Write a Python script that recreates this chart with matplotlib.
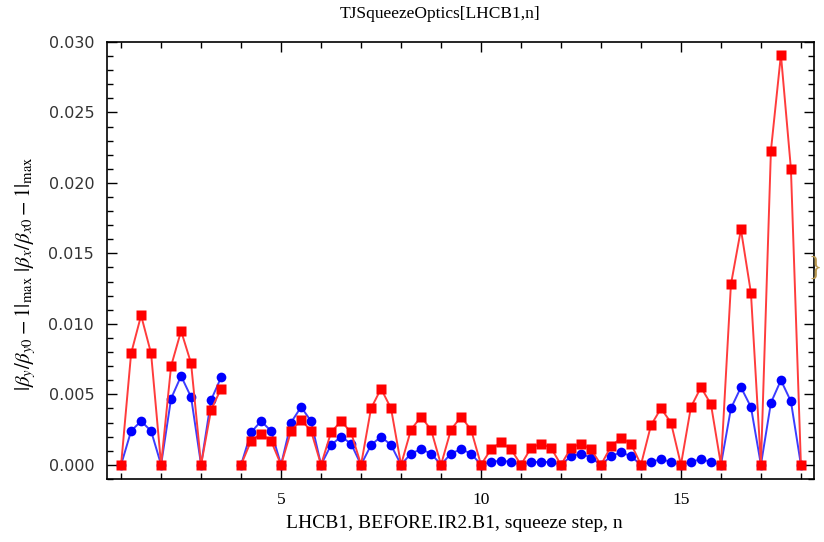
import numpy as np
import matplotlib
matplotlib.use("Agg")
import matplotlib.pyplot as plt
from matplotlib.ticker import MultipleLocator

plt.rcParams['mathtext.fontset'] = 'stix'

# squeeze step positions, 4 samples per step (n, n+1/4, n+1/2, n+3/4)
steps = np.arange(1, 18.01, 0.25)

# |beta_x/beta_x0 - 1|_max  (red squares), nan = missing point
beta_x = [0.0, 0.0079, 0.0106, 0.0079,
          0.0, 0.0070, 0.0095, 0.0072,
          0.0, 0.0039, 0.0054, np.nan,
          0.0, 0.0017, 0.0022, 0.0017,
          0.0, 0.0024, 0.0032, 0.0024,
          0.0, 0.0023, 0.0031, 0.0023,
          0.0, 0.0040, 0.0054, 0.0040,
          0.0, 0.0025, 0.0034, 0.0025,
          0.0, 0.0025, 0.0034, 0.0025,
          0.0, 0.0011, 0.0016, 0.0011,
          0.0, 0.0012, 0.0015, 0.0012,
          0.0, 0.0012, 0.0015, 0.0011,
          0.0, 0.0013, 0.0019, 0.0015,
          0.0, 0.0028, 0.0040, 0.0030,
          0.0, 0.0041, 0.0055, 0.0043,
          0.0, 0.0128, 0.0167, 0.0122,
          0.0, 0.0223, 0.0291, 0.0210,
          0.0]

# |beta_y/beta_y0 - 1|_max  (blue circles)
beta_y = [0.0, 0.0024, 0.0031, 0.0024,
          0.0, 0.0047, 0.0063, 0.0048,
          0.0, 0.0046, 0.0062, np.nan,
          0.0, 0.0023, 0.0031, 0.0024,
          0.0, 0.0030, 0.0041, 0.0031,
          0.0, 0.0014, 0.0020, 0.0015,
          0.0, 0.0014, 0.0020, 0.0014,
          0.0, 0.0008, 0.0011, 0.0008,
          0.0, 0.0008, 0.0011, 0.0008,
          0.0, 0.0002, 0.0003, 0.0002,
          0.0, 0.0002, 0.0002, 0.0002,
          0.0, 0.0006, 0.0008, 0.0005,
          0.0, 0.0006, 0.0009, 0.0006,
          0.0, 0.0002, 0.0004, 0.0002,
          0.0, 0.0002, 0.0004, 0.0002,
          0.0, 0.0040, 0.0055, 0.0041,
          0.0, 0.0044, 0.0060, 0.0045,
          0.0]

fig = plt.figure(figsize=(8.24, 5.42), dpi=100)
ax = fig.add_axes([0.1295, 0.1162, 0.8585, 0.8063])

ax.plot(steps, beta_y, '-', color='#3c3cff', lw=1.4, zorder=2)
ax.plot(steps, beta_y, 'o', color='#0000ff', ms=7, mec='none', zorder=3)
ax.plot(steps, beta_x, '-', color='#ff3c3c', lw=1.4, zorder=4)
ax.plot(steps, beta_x, 's', color='#ff0000', ms=7, mec='none', zorder=5)

ax.set_xlim(0.64, 18.33)
ax.set_ylim(-0.00101, 0.0300)

ax.xaxis.set_major_locator(MultipleLocator(5))
ax.xaxis.set_minor_locator(MultipleLocator(1))
ax.yaxis.set_major_locator(MultipleLocator(0.005))
ax.yaxis.set_minor_locator(MultipleLocator(0.001))
ax.yaxis.set_major_formatter(matplotlib.ticker.FormatStrFormatter('%.3f'))

ax.tick_params(which='both', direction='in', top=True, right=True, width=1.0)
ax.tick_params(which='major', length=7)
ax.tick_params(which='minor', length=4)
ax.tick_params(axis='x', pad=9)
ax.tick_params(axis='y', pad=9)
for lab in ax.get_xticklabels():
    lab.set_fontfamily('Liberation Serif')
    lab.set_fontsize(12.5)
for lab in ax.get_yticklabels():
    lab.set_fontfamily('DejaVu Sans')
    lab.set_fontsize(11.5)
    lab.set_color('#333333')
for s in ax.spines.values():
    s.set_linewidth(1.2)

fig.text(440 / 824, 1 - 14 / 542, 'TJSqueezeOptics[LHCB1,n]', ha='center', va='center',
         fontfamily='Liberation Serif', fontsize=12.5)
fig.text(454 / 824, 1 - 523 / 542, 'LHCB1, BEFORE.IR2.B1, squeeze step, n', ha='center',
         va='center', fontfamily='Liberation Serif', fontsize=14)
fig.text(26 / 824, 1 - 274 / 542,
         r'$|\beta_y/\beta_{y0}-1|_{\mathrm{max}}\ |\beta_x/\beta_{x0}-1|_{\mathrm{max}}$',
         rotation=90, ha='center', va='center', fontsize=15)
fig.text(815 / 824, 1 - 268 / 542, '}', ha='center', va='center', fontsize=20,
         color='#b89850', fontfamily='Liberation Serif')

fig.savefig('out.png', dpi=100)
